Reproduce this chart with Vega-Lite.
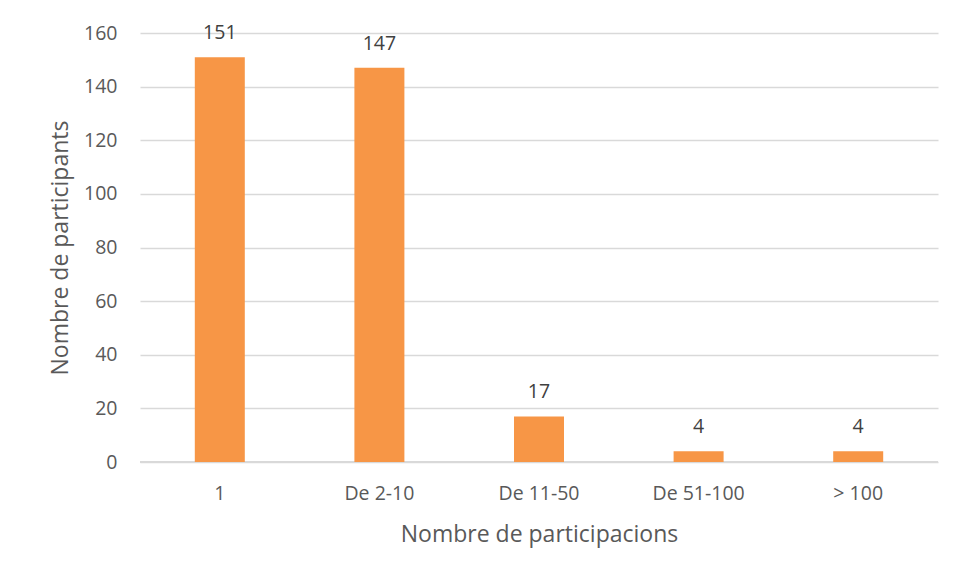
{
  "$schema": "https://vega.github.io/schema/vega-lite/v6.json",
  "autosize": "none",
  "width": 798,
  "height": 429,
  "padding": {"left": 140, "top": 33, "right": 19, "bottom": 113},
  "background": "white",
  "config": {
    "font": "Open Sans",
    "view": {"stroke": null}
  },
  "data": {
    "values": [
      {"cat": "1", "n": 151},
      {"cat": "De 2-10", "n": 147},
      {"cat": "De 11-50", "n": 17},
      {"cat": "De 51-100", "n": 4},
      {"cat": "> 100", "n": 4}
    ]
  },
  "encoding": {
    "x": {
      "field": "cat", "type": "nominal", "sort": null,
      "scale": {"paddingInner": 0, "paddingOuter": 0},
      "axis": {
        "title": "Nombre de participacions",
        "labelAngle": 0, "labelFont": "Open Sans", "labelFontSize": 19.5, "labelColor": "#595959",
        "labelPadding": 22, "ticks": false, "domain": false,
        "titleFont": "Open Sans", "titleFontSize": 23, "titleFontWeight": "normal", "titleColor": "#595959",
        "titlePadding": 21
      }
    },
    "y": {
      "field": "n", "type": "quantitative",
      "scale": {"domain": [0, 160]},
      "axis": {
        "title": "Nombre de participants",
        "values": [0, 20, 40, 60, 80, 100, 120, 140, 160],
        "labelFont": "Open Sans", "labelFontSize": 19.5, "labelColor": "#595959",
        "labelPadding": 23, "ticks": false, "domain": false,
        "gridColor": "#D9D9D9", "gridWidth": 1.3,
        "titleFont": "Open Sans", "titleFontSize": 23, "titleFontWeight": "normal", "titleColor": "#595959",
        "titlePadding": 11
      }
    }
  },
  "layer": [
    {"mark": {"type": "rule", "color": "#D9D9D9", "strokeWidth": 2}, "encoding": {"y": {"datum": 0}, "x": null}},
    {"mark": {"type": "bar", "color": "#F79646", "size": 50}},
    {
      "mark": {"type": "text", "dy": -24, "fontSize": 19.5, "font": "Open Sans", "color": "#404040"},
      "encoding": {"text": {"field": "n", "type": "quantitative"}}
    }
  ]
}
